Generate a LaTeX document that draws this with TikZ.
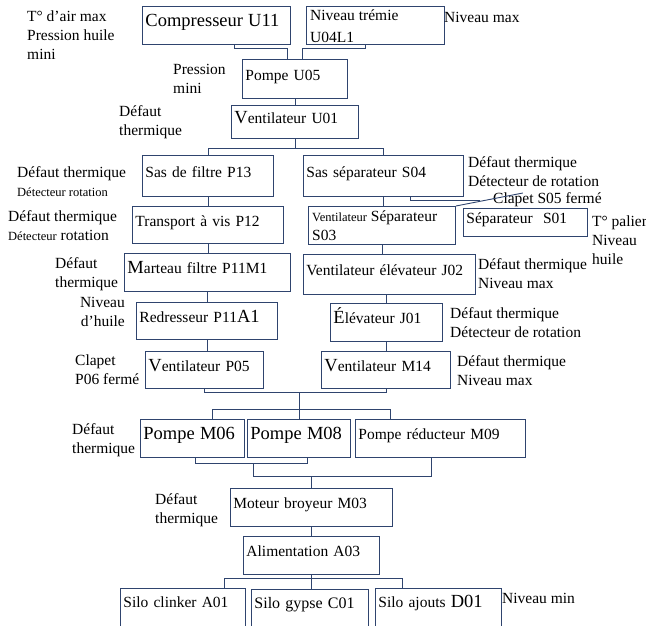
\documentclass[tikz,border=0pt]{standalone}
\usepackage{fontspec}
\setmainfont{Liberation Serif}
\definecolor{bleu}{RGB}{47,68,110}
\newcommand{\txt}{\fontsize{15.5}{19}\selectfont}
\newcommand{\grand}{\fontsize{18.5}{21}\selectfont}
\newcommand{\petit}{\fontsize{12.5}{15}\selectfont}

\begin{document}
\begin{tikzpicture}[
    x=1pt, y=-1pt,
    box/.style={draw=bleu, line width=0.9pt, anchor=north west, align=left, inner xsep=3pt, inner ysep=0pt, text height=12pt, text depth=9pt, font=\txt},
    silo/.style={box, text height=19pt, text depth=30pt},
    lbl/.style={anchor=west, align=left, inner sep=0pt, font=\txt},
    lien/.style={draw=bleu, line width=0.9pt}
]
\useasboundingbox (0,0) rectangle (646,625);

% Equipements
\node[box, text width=142, minimum height=38] (U11) at (142,6) {\grand Compresseur U11};
\node[box, text width=132, minimum height=38] (U04L1) at (306,6) {};
\node[lbl, anchor=north west] (tU04L1) at (310,10) {Niveau trémie\\[3pt]U04L1};
\node[box, text width=99, minimum height=39] (U05) at (242,59) {Pompe U05};
\node[box, text width=121, minimum height=33] (U01) at (231,105) {{\grand V}entilateur U01};

\node[box, text width=125, minimum height=41] (P13) at (142,155) {Sas de filtre P13};
\node[box, text width=154, minimum height=41] (S04) at (303,155) {Sas séparateur S04};

\node[box, text width=145, minimum height=37] (P12) at (132,206) {Transport à vis P12};
\node[box, text width=141, minimum height=38] (S03) at (308,206) {};
\node[lbl, anchor=north west] (tS03) at (312,211) {{\petit Ventilateur} Séparateur\\S03};
\node[box, text width=118, minimum height=28] (S01) at (463,208) {Séparateur\ \ S01};

\node[box, text width=160, minimum height=38] (P11M1) at (124,253) {{\grand M}arteau filtre P11M1};
\node[box, text width=166, minimum height=40] (J02) at (303,254) {Ventilateur élévateur J02};

\node[box, text width=135, minimum height=37] (P11A1) at (136,302) {Redresseur P11{\grand A1}};
\node[box, text width=106, minimum height=38] (J01) at (330,303) {{\grand É}lévateur J01};

\node[box, text width=112, minimum height=37] (P05) at (145,351) {{\grand V}entilateur P05};
\node[box, text width=123, minimum height=37] (M14) at (321,351) {{\grand V}entilateur M14};

\node[box, text width=98, minimum height=38] (M06) at (140,419) {\grand Pompe M06};
\node[box, text width=97, minimum height=38] (M08) at (247,419) {\grand Pompe M08};
\node[box, text width=164, minimum height=38] (M09) at (355,419) {Pompe réducteur M09};

\node[box, text width=156, minimum height=38] (M03) at (230,488) {Moteur broyeur M03};
\node[box, text width=130, minimum height=38] (A03) at (243,536) {Alimentation A03};

\node[silo, text width=119] (A01) at (120,588) {Silo clinker A01};
\node[silo, text width=111] (C01) at (251,589) {\fontsize{16}{19}\selectfont Silo gypse C01};
\node[silo, text width=120] (D01) at (375,588) {Silo ajouts {\grand D01}};

% Conditions
\node[lbl] (lU11) at (27,35) {T° d’air max\\Pression huile\\mini};
\node[lbl] (lU04L1) at (444,17) {Niveau max};
\node[lbl] (lU05) at (173,79) {Pression\\mini};
\node[lbl] (lU01) at (119,122) {Défaut\\thermique};
\node[lbl] (lP13) at (17,182) {Défaut thermique\\{\petit Détecteur rotation}};
\node[lbl] (lS04) at (468,172) {Défaut thermique\\Détecteur de rotation};
\node[lbl] (lS05) at (493,200) {Clapet S05 fermé};
\node[lbl] (lS01) at (592,240) {T° palier\\Niveau\\huile};
\node[lbl] (lP12) at (8,226) {Défaut thermique\\{\petit Détecteur} rotation};
\node[lbl] (lP11M1) at (55,274) {Défaut\\thermique};
\node[lbl] (lJ02) at (478,274) {Défaut thermique\\Niveau max};
\node[lbl, anchor=east, align=right] (lP11A1) at (125,312) {Niveau\\d’huile};
\node[lbl] (lJ01) at (450,323) {Défaut thermique\\Détecteur de rotation};
\node[lbl] (lP05) at (75,370) {Clapet\\P06 fermé};
\node[lbl] (lM14) at (457,371) {Défaut thermique\\Niveau max};
\node[lbl] (lM06) at (72,440) {Défaut\\thermique};
\node[lbl] (lM03) at (155,510) {Défaut\\thermique};
\node[lbl] (lD01) at (502,598) {Niveau min};

% Liaisons
\draw[lien] ([xshift=18pt]U11.south) -- ++(0,4) -| ([xshift=-7.5pt]U05.north);
\draw[lien] ([xshift=-10pt]U04L1.south) -- ++(0,4) -| ([xshift=7.5pt]U05.north);
\draw[lien] (U05.south) -- (U01.north);
\draw[lien] (U01.south) -- ++(0,10);
\draw[lien] (P13.north) -- ++(0,-7) -| (S04.north);
\draw[lien] (P13.south) -- (P13.south |- P12.north);
\draw[lien] (S04.south) -- (S04.south |- S03.north);
\draw[lien] ([xshift=27pt]S04.south) -- ++(0,4) -- ++(70,0);
\draw[lien] (S03.north east) -- ++(67,-13);
\draw[lien] (P12.south) -- (P12.south |- P11M1.north);
\draw[lien] (S03.south) -- (S03.south |- J02.north);
\draw[lien] (P11M1.south) -- (P11M1.south |- P11A1.north);
\draw[lien] (J01.north |- J02.south) -- (J01.north);
\draw[lien] (P11A1.south) -- (P11A1.south |- P05.north);
\draw[lien] (J01.south) -- (J01.south |- M14.north);
\draw[lien] (P05.south) -- ++(0,4) -| (M14.south);
\draw[lien] (M08.north) -- ++(0,-27);
\draw[lien] ([xshift=20pt]M06.north) -- ++(0,-10) -| ([xshift=-50pt]M09.north);
\draw[lien] ([xshift=3pt]M06.south) -- ++(0,6) -| ([xshift=8pt]M08.south);
\coordinate (jonction) at (253,463);
\draw[lien] (jonction) -- ++(0,13) -| ([xshift=-9pt]M09.south);
\draw[lien] (M03.north) -- ++(0,-12);
\draw[lien] (M03.south) -- (M03.south |- A03.north);
\draw[lien] (A03.south) -- (A03.south |- C01.north);
\draw[lien] ([xshift=41.5pt]A01.north) -- ++(0,-10) -| ([xshift=-36pt]D01.north);

\end{tikzpicture}
\end{document}
